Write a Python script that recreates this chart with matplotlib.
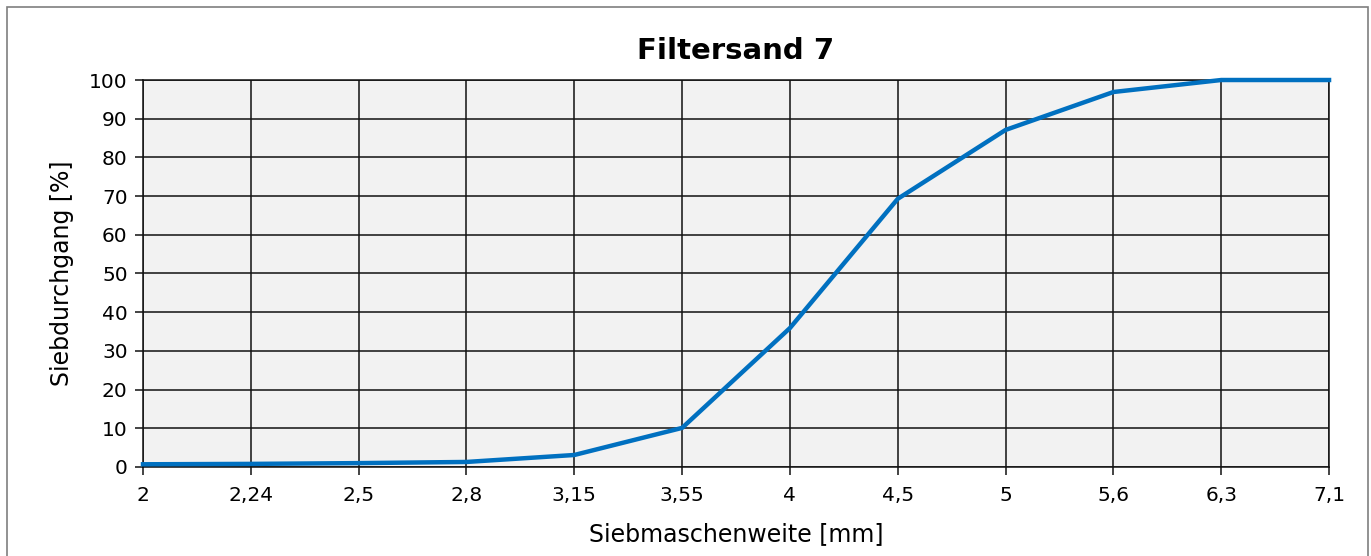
import matplotlib.pyplot as plt
from matplotlib.patches import Rectangle

# Sieve sizes (mm) as categories and passing percentage
sizes = ["2", "2,24", "2,5", "2,8", "3,15", "3,55", "4", "4,5", "5", "5,6", "6,3", "7,1"]
passing = [0.7, 0.8, 1.0, 1.3, 3.1, 10.1, 35.9, 69.3, 87.1, 96.9, 100, 100]
y_ticks = list(range(0, 101, 10))

plt.rcParams['font.family'] = ['DejaVu Sans']

fig = plt.figure(figsize=(13.71, 5.56), dpi=100)
ax = fig.add_axes([0.1043, 0.1601, 0.8651, 0.696])

x = list(range(len(sizes)))
ax.set_facecolor('#f2f2f2')
ax.plot(x, passing, color='#0070c0', lw=3.2, zorder=3, clip_on=False)

ax.set_xlim(0, len(sizes) - 1)
ax.set_ylim(0, 100)
ax.set_xticks(x)
ax.set_xticklabels(sizes)
ax.set_yticks(y_ticks)
ax.grid(True, color='#111111', lw=1.1)
ax.set_axisbelow(True)
for s in ax.spines.values():
    s.set_color('#111111')
    s.set_linewidth(1.1)
ax.tick_params(axis='both', length=6, width=1.1, color='#111111', labelsize=14.5)
ax.tick_params(axis='x', pad=8)
ax.tick_params(axis='y', pad=5)

ax.set_xlabel("Siebmaschenweite [mm]", fontsize=17, labelpad=12)
ax.set_ylabel("Siebdurchgang [%]", fontsize=17, labelpad=11)
ax.set_title("Filtersand 7", fontsize=21, fontweight='bold', pad=15)

# outer frame
fig.patches.append(Rectangle((7 / 1371, -0.01), 1361 / 1371, 1 - 7 / 556 + 0.01,
                             transform=fig.transFigure, fill=False,
                             edgecolor='#7f7f7f', lw=1.2))

fig.savefig("out.png", dpi=100)
